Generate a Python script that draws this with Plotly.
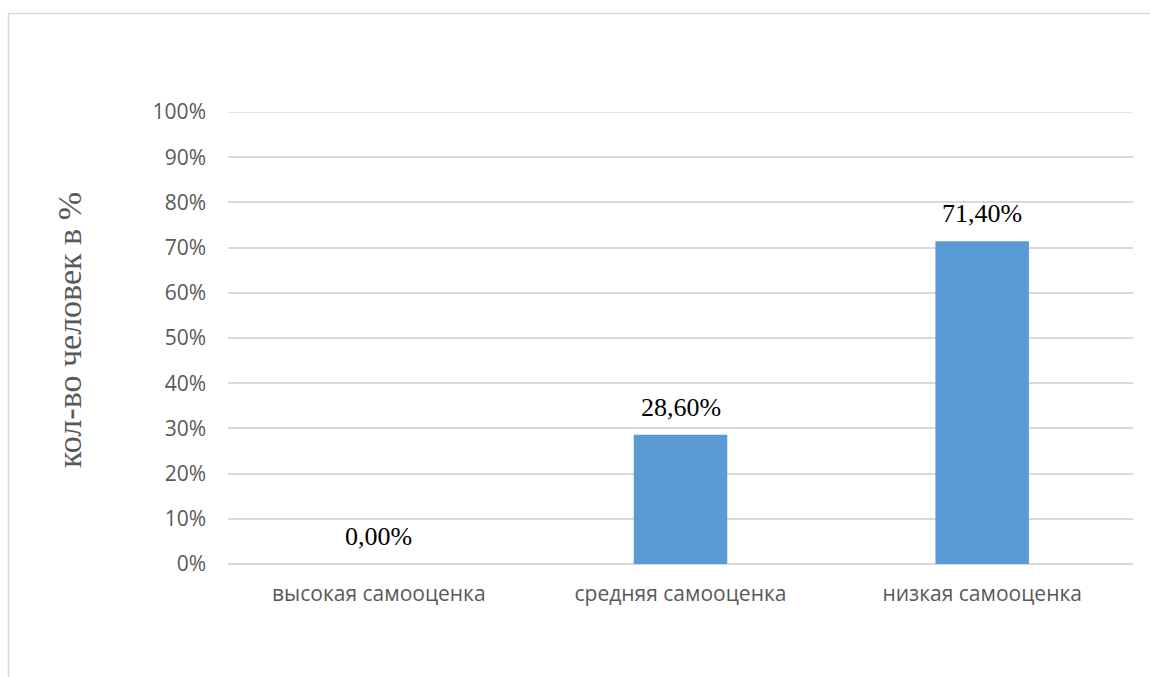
import plotly.graph_objects as go

# Self-esteem level distribution
categories = ["высокая самооценка", "средняя самооценка", "низкая самооценка"]
shares = [0.0, 28.6, 71.4]
value_labels = ["0,00%", "28,60%", "71,40%"]
tick_values = [0, 10, 20, 30, 40, 50, 60, 70, 80, 90, 100]
tick_labels = ["0%", "10%", "20%", "30%", "40%", "50%", "60%", "70%", "80%", "90%", "100%"]

W, H = 1150, 677
L, R, T, B = 228, 17, 112, 113
plot_w = W - L - R
plot_h = H - T - B


def px_to_paper_x(px):
    return (px - L) / plot_w


def px_to_paper_y(py):
    return (H - B - py) / plot_h


fig = go.Figure()
fig.add_trace(go.Bar(
    x=categories,
    y=shares,
    marker=dict(color="#5B9BD5", line=dict(width=0)),
    hoverinfo="skip",
))

# Value labels above each bar
for cat, val, lab in zip(categories, shares, value_labels):
    fig.add_annotation(
        x=cat, y=val, xref="x", yref="y",
        text=lab, showarrow=False,
        yanchor="bottom", yshift=11,
        font=dict(family="Liberation Serif, Times New Roman, serif", size=26, color="#000000"),
    )

# Axis title
fig.add_annotation(
    x=px_to_paper_x(69), y=px_to_paper_y(330), xref="paper", yref="paper",
    text="кол-во человек в %", showarrow=False, textangle=-90,
    xanchor="center", yanchor="middle",
    font=dict(family="Liberation Serif, Times New Roman, serif", size=34, color="#595959"),
)

# Top gridline at the end of the value range
fig.add_shape(
    type="line", xref="paper", yref="y",
    x0=0, x1=1, y0=tick_values[-1], y1=tick_values[-1],
    line=dict(color="#d9d9d9", width=1.5), layer="below",
)

# Chart area frame
fig.add_shape(
    type="rect", xref="paper", yref="paper",
    x0=px_to_paper_x(8.5), x1=px_to_paper_x(1300),
    y0=px_to_paper_y(800), y1=px_to_paper_y(13.5),
    line=dict(color="#d9d9d9", width=1.5), fillcolor="rgba(0,0,0,0)",
    layer="below",
)

fig.update_layout(
    width=W, height=H,
    margin=dict(l=L, r=R, t=T, b=B),
    paper_bgcolor="#ffffff",
    plot_bgcolor="#ffffff",
    showlegend=False,
    bargap=0.69,
    font=dict(family="Open Sans", color="#595959"),
)
fig.update_xaxes(
    showgrid=False, showline=False, zeroline=False,
    tickfont=dict(family="Open Sans", size=21, color="#595959"),
    ticklabelstandoff=15,
    fixedrange=True,
)
fig.update_yaxes(
    range=[0, 100],
    tickvals=tick_values, ticktext=tick_labels,
    showgrid=True, gridcolor="#d9d9d9", gridwidth=1.5,
    zeroline=True, zerolinecolor="#d9d9d9", zerolinewidth=1.5,
    showline=False,
    tickfont=dict(family="Open Sans", size=21, color="#595959"),
    ticklabelstandoff=21,
    fixedrange=True,
)

fig.write_html("out.html")
